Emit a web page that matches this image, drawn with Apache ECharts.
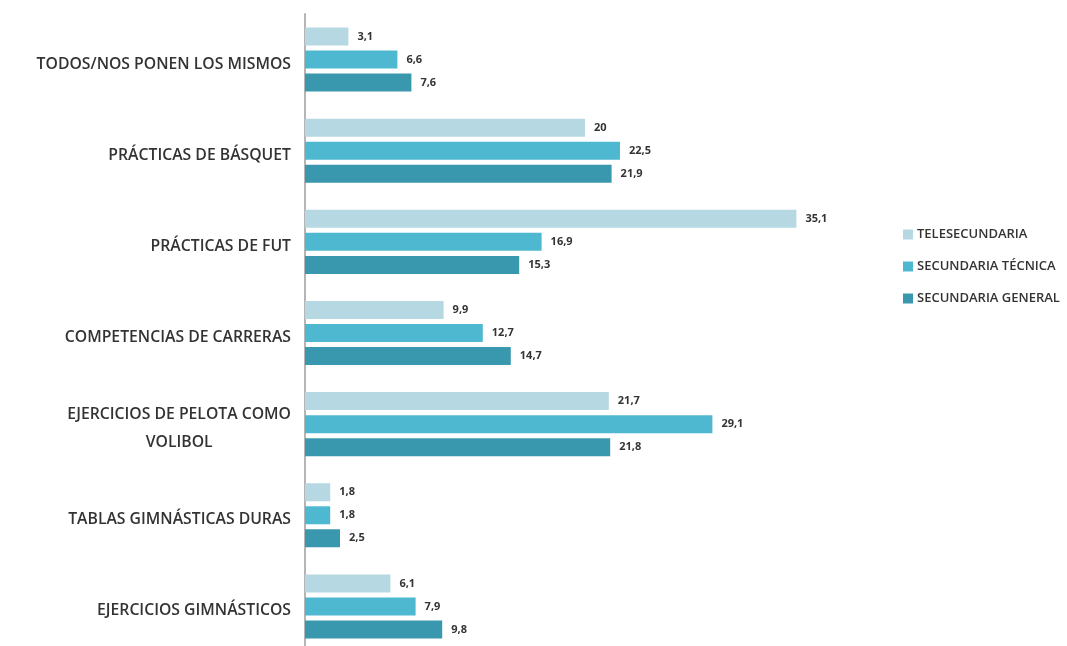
<!DOCTYPE html>
<html>
<head>
<meta charset="utf-8">
<script src="https://cdn.jsdelivr.net/npm/echarts@6/dist/echarts.min.js"></script>
<style>
html,body{margin:0;padding:0;background:#fff;overflow:hidden;}
#chart{width:1067px;height:652px;}
</style>
</head>
<body>
<div id="chart"></div>
<script>
const categories = [
  'TODOS/NOS PONEN LOS MISMOS',
  'PRÁCTICAS DE BÁSQUET',
  'PRÁCTICAS DE FUT',
  'COMPETENCIAS DE CARRERAS',
  'EJERCICIOS DE PELOTA COMO\nVOLIBOL',
  'TABLAS GIMNÁSTICAS DURAS',
  'EJERCICIOS GIMNÁSTICOS'
];
const seriesNames = ['TELESECUNDARIA', 'SECUNDARIA TÉCNICA', 'SECUNDARIA GENERAL'];
const telesecundaria = [3.1, 20, 35.1, 9.9, 21.7, 1.8, 6.1];
const secundariaTecnica = [6.6, 22.5, 16.9, 12.7, 29.1, 1.8, 7.9];
const secundariaGeneral = [7.6, 21.9, 15.3, 14.7, 21.8, 2.5, 9.8];
const colors = ['#b6d8e3', '#4eb8d1', '#3a98ae'];

const chart = echarts.init(document.getElementById('chart'), null, {renderer: 'canvas'});
const valueLabel = {
  show: true,
  position: 'right',
  distance: 9,
  color: '#333',
  fontFamily: 'Open Sans',
  fontWeight: 700,
  fontSize: 11,
  formatter: p => String(p.value).replace('.', ',')
};
const dataSets = [telesecundaria, secundariaTecnica, secundariaGeneral];
chart.setOption({
  backgroundColor: '#ffffff',
  animation: false,
  legend: {
    orient: 'vertical',
    left: 898,
    top: 223,
    itemWidth: 10,
    itemHeight: 10,
    itemGap: 19,
    icon: 'rect',
    data: seriesNames,
    textStyle: {color: '#333', fontFamily: 'Open Sans', fontWeight: 600, fontSize: 13, padding: [0, 0, 0, -1]}
  },
  grid: {left: 305, top: 14, right: 202, bottom: 0, containLabel: false},
  xAxis: {
    type: 'value', min: 0, max: 40,
    show: false
  },
  yAxis: {
    type: 'category',
    inverse: true,
    data: categories,
    axisLine: {show: true, lineStyle: {color: '#b5b5b5', width: 2}},
    axisTick: {show: false},
    axisLabel: {
      margin: 14,
      color: '#333',
      fontFamily: 'Open Sans',
      fontWeight: 600,
      fontSize: 15.75,
      lineHeight: 28,
      padding: [9, 0, 0, 0],
      formatter: v => v.split('\n').map(s => '{c|' + s + '}').join('\n'),
      rich: {c: {align: 'center', color: '#333', fontFamily: 'Open Sans', fontWeight: 600, fontSize: 15.75, lineHeight: 28}}
    }
  },
  series: seriesNames.map((n, i) => ({
    name: n,
    type: 'bar',
    data: dataSets[i],
    barWidth: 18,
    barGap: '28%',
    itemStyle: {color: colors[i]},
    label: valueLabel
  }))
});
</script>
</body>
</html>
